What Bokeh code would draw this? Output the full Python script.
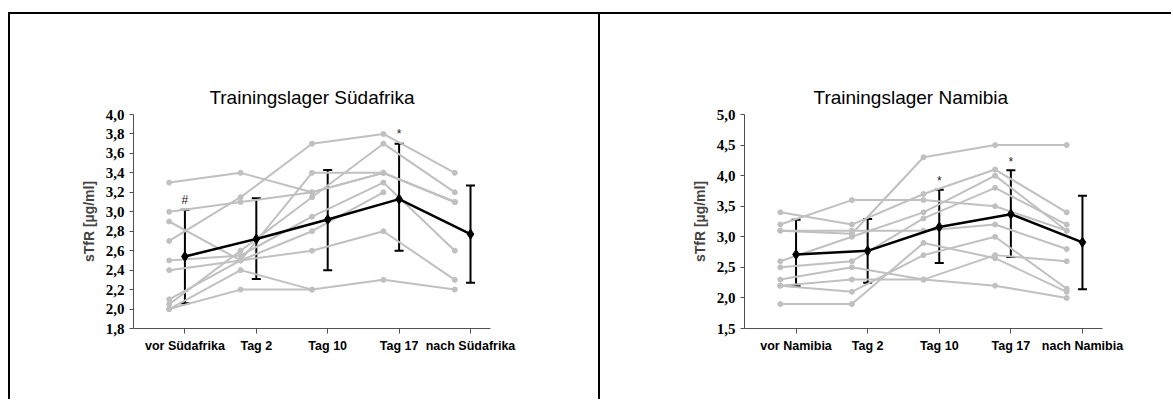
from bokeh.plotting import figure
from bokeh.models import Range1d, FixedTicker, ColumnDataSource, Whisker, TeeHead, Title, Spacer
from bokeh.layouts import row, column
from bokeh.core.properties import value
from bokeh.embed import file_html
from bokeh.resources import INLINE

NaN = float("nan")

# ---------------- data ----------------
sa_title = "Trainingslager Südafrika"
sa_categories = ["vor Südafrika", "Tag 2", "Tag 10", "Tag 17", "nach Südafrika"]
sa_subjects = [
    [3.3, 3.4, 3.2, 3.4, 3.1],
    [3.0, 3.1, 3.2, 3.4, 3.1],
    [2.7, 3.15, 3.7, 3.8, 3.4],
    [2.9, 2.5, 3.4, 3.4, 3.1],
    [2.5, 2.55, 2.95, 3.3, 2.6],
    [2.4, 2.5, 2.6, 2.8, 2.3],
    [2.0, 2.2, 2.2, 2.3, 2.2],
    [2.0, 2.4, 2.2, NaN, NaN],
    [2.05, 2.6, 3.15, 3.7, 3.2],
    [2.1, 2.5, 2.8, 3.2, NaN],
]
sa_mean = [2.54, 2.72, 2.92, 3.13, 2.77]
sa_upper = [3.02, 3.14, 3.43, 3.70, 3.27]
sa_lower = [2.06, 2.31, 2.40, 2.60, 2.27]
sa_marks = ["#", "*"]
sa_mark_idx = [0, 3]
sa_mark_y = [3.12, 3.80]

na_title = "Trainingslager Namibia"
na_categories = ["vor Namibia", "Tag 2", "Tag 10", "Tag 17", "nach Namibia"]
na_subjects = [
    [1.9, 1.9, 2.9, 2.65, 2.1],
    [2.2, 2.1, 2.7, 3.0, 2.15],
    [2.2, 2.3, 2.3, 2.2, 2.0],
    [2.3, 2.5, 2.3, 2.7, 2.6],
    [2.5, 2.6, 3.3, 3.8, 3.2],
    [2.6, 3.0, 3.4, 4.0, 3.1],
    [3.4, 3.2, 3.7, 4.1, 3.4],
    [3.1, 3.1, 3.1, 3.2, 2.8],
    [3.2, 3.6, 3.6, 3.5, 3.1],
    [3.1, 3.05, 4.3, 4.5, 4.5],
]
na_mean = [2.71, 2.77, 3.16, 3.37, 2.91]
na_upper = [3.28, 3.29, 3.77, 4.09, 3.67]
na_lower = [2.19, 2.25, 2.57, 2.67, 2.14]
na_marks = ["*", "*"]
na_mark_idx = [2, 3]
na_mark_y = [3.92, 4.23]

y_label = "sTfR [µg/ml]"

MEAN_SHIFT = 0.22
GREY = "#c0c0c0"
PANEL_H = 385


def fmt(v):
    return f"{v:.1f}".replace(".", ",")


def black_bar(w, h):
    return Spacer(width=w, height=h, styles={"background-color": "black"})


def panel(title, cats, subjects, mean, upper, lower, marks, mark_idx, mark_y,
          yr, ystep, width, min_left, min_right, title_align, title_offset):
    p = figure(width=width, height=PANEL_H, output_backend="svg", toolbar_location=None,
               x_range=Range1d(0.5, 5.5), y_range=Range1d(*yr),
               min_border_left=min_left, min_border_right=min_right,
               min_border_top=100, min_border_bottom=PANEL_H - 100 - 214,
               background_fill_color="white", border_fill_color="white",
               outline_line_color=None)
    p.xgrid.visible = False
    p.ygrid.visible = False

    t = Title(text=title, align=title_align, offset=title_offset,
              text_font="Liberation Sans", text_font_size="19px",
              text_font_style="normal", text_color="black", standoff=14)
    p.add_layout(t, "above")

    xs = [1, 2, 3, 4, 5]
    for s in subjects:
        p.line(xs, s, line_color=GREY, line_width=2)
        p.scatter(xs, s, marker="circle", size=5, fill_color=GREY, line_color=GREY)

    mx = [x + MEAN_SHIFT for x in xs]
    src = ColumnDataSource(dict(x=mx, m=mean, up=upper, lo=lower))
    w = Whisker(source=src, base="x", upper="up", lower="lo", line_color="black",
                line_width=2,
                upper_head=TeeHead(size=9, line_color="black", line_width=2),
                lower_head=TeeHead(size=9, line_color="black", line_width=2))
    p.add_layout(w)
    p.line("x", "m", source=src, line_color="black", line_width=2.5)
    p.scatter("x", "m", source=src, marker="diamond", size=10,
              fill_color="black", line_color="black")

    p.text([mx[i] for i in mark_idx], mark_y, text=marks, text_align="center",
           text_baseline="middle", text_font=value("Liberation Sans"),
           text_font_size="12px", text_color="#222222")

    # axes
    p.xaxis.ticker = FixedTicker(ticks=mx)
    p.xaxis.major_label_overrides = {m: c for m, c in zip(mx, cats)}
    p.xaxis.major_tick_out = 5
    p.xaxis.major_tick_in = 0
    p.xaxis.minor_tick_line_color = None
    p.xaxis.axis_line_color = "#505050"
    p.xaxis.major_tick_line_color = "#505050"
    p.xaxis.major_label_text_font = "Liberation Sans"
    p.xaxis.major_label_text_font_style = "bold"
    p.xaxis.major_label_text_font_size = "12.5px"
    p.xaxis.major_label_text_color = "black"

    n = int(round((yr[1] - yr[0]) / ystep))
    yt = [round(yr[0] + i * ystep, 2) for i in range(n + 1)]
    p.yaxis.ticker = FixedTicker(ticks=yt)
    p.yaxis.major_label_overrides = {v: fmt(v) for v in yt}
    p.yaxis.major_tick_out = 4
    p.yaxis.major_tick_in = 0
    p.yaxis.minor_tick_line_color = None
    p.yaxis.axis_line_color = "#505050"
    p.yaxis.major_tick_line_color = "#505050"
    p.yaxis.major_label_text_font = "Liberation Serif"
    p.yaxis.major_label_text_font_style = "bold"
    p.yaxis.major_label_text_font_size = "15px"
    p.yaxis.major_label_text_color = "black"
    p.yaxis.axis_label = y_label
    p.yaxis.axis_label_text_font = "Liberation Sans"
    p.yaxis.axis_label_text_font_style = "bold"
    p.yaxis.axis_label_text_font_size = "14px"
    p.yaxis.axis_label_standoff = 6
    return p


# page (no body margin observed): left border x=8..9, panel 1 x=10..597,
# separator x=598..599, panel 2 x=600..1170 ; top border y=12..13, panels from y=14
p1 = panel(sa_title, sa_categories, sa_subjects, sa_mean, sa_upper, sa_lower,
           sa_marks, sa_mark_idx, sa_mark_y, (1.8, 4.0), 0.2, 588, 123, 108,
           "center", 0)
p2 = panel(na_title, na_categories, na_subjects, na_mean, na_upper, na_lower,
           na_marks, na_mark_idx, na_mark_y, (1.5, 5.0), 0.5, 571, 144, 69,
           "left", 69)

layout = column(
    Spacer(width=1171, height=12),
    row(Spacer(width=8, height=2), black_bar(1163, 2), spacing=0),
    row(Spacer(width=8, height=PANEL_H), black_bar(2, PANEL_H), p1,
        black_bar(2, PANEL_H), p2, spacing=0),
    spacing=0,
)
open("out.html", "w").write(file_html(layout, INLINE))
